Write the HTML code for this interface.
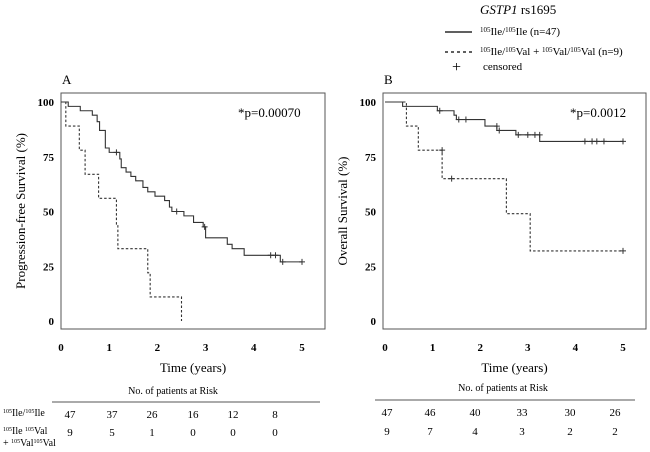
<!DOCTYPE html>
<html><head><meta charset="utf-8"><style>
body{margin:0;background:#fff;}
svg{display:block;font-family:"Liberation Serif",serif;}
</style></head><body>
<svg width="650" height="452" viewBox="0 0 650 452">
<g id="legend" font-size="11">
 <text x="480" y="14" font-size="13"><tspan font-style="italic">GSTP1</tspan> rs1695</text>
 <line x1="445" y1="32" x2="472" y2="32" stroke="#000" stroke-width="1.2"/>
 <text x="480" y="35"><tspan font-size="7" dy="-3">105</tspan><tspan dy="3">Ile/</tspan><tspan font-size="7" dy="-3">105</tspan><tspan dy="3">Ile    (n=47)</tspan></text>
 <line x1="445" y1="52" x2="472" y2="52" stroke="#000" stroke-width="1.2" stroke-dasharray="3,3"/>
 <text x="480" y="55"><tspan font-size="7" dy="-3">105</tspan><tspan dy="3">Ile/</tspan><tspan font-size="7" dy="-3">105</tspan><tspan dy="3">Val + </tspan><tspan font-size="7" dy="-3">105</tspan><tspan dy="3">Val/</tspan><tspan font-size="7" dy="-3">105</tspan><tspan dy="3">Val   (n=9)</tspan></text>
 <text x="452" y="72" font-size="16">+</text>
 <text x="483" y="70">censored</text>
</g>
<g id="pA"></g>
<g id="pB"></g>
<g id="risk" font-size="11">
 <text x="173" y="394" text-anchor="middle" font-size="10">No. of patients at Risk</text>
 <line x1="52" y1="402" x2="320" y2="402" stroke="#555"/>
 <text x="503" y="391" text-anchor="middle" font-size="10">No. of patients at Risk</text>
 <line x1="375" y1="400" x2="635" y2="400" stroke="#555"/>
 <text x="3" y="416" font-size="10"><tspan font-size="6" dy="-3">105</tspan><tspan dy="3">Ile/</tspan><tspan font-size="6" dy="-3">105</tspan><tspan dy="3">Ile</tspan></text>
 <text x="3" y="434" font-size="10"><tspan font-size="6" dy="-3">105</tspan><tspan dy="3">Ile </tspan><tspan font-size="6" dy="-3">105</tspan><tspan dy="3">Val</tspan></text>
 <text x="3" y="446" font-size="10">+ <tspan font-size="6" dy="-3">105</tspan><tspan dy="3">Val</tspan><tspan font-size="6" dy="-3">105</tspan><tspan dy="3">Val</tspan></text>
</g>
</svg>
<script>
const aSolidT=[0,0.15,0.4,0.65,0.75,0.8,0.92,1.0,1.22,1.25,1.35,1.45,1.55,1.7,1.8,1.95,2.15,2.25,2.3,2.55,2.75,2.95,3.0,3.45,3.55,3.8,4.55,5.0];
const aSolidS=[100,98,96,94,91,87,79,77,74,70,68,66,64,61,59,57,55,52,50,48,45,43,38,35,33,30,27,27];
const aSolidCensT=[1.15,2.4,2.98,4.35,4.45,4.6,5.0];
const aSolidCensS=[77,50,43,30,30,27,27];
const aDashT=[0,0.1,0.38,0.5,0.78,1.15,1.18,1.8,1.85,2.5];
const aDashS=[100,89,78,67,56,44,33,22,11,0];
const bSolidT=[0,0.37,1.1,1.45,1.5,2.1,2.35,2.75,3.25,5.0];
const bSolidS=[100,98,96,94,92,89,87,85,82,82];
const bSolidCensT=[1.15,1.55,1.7,2.35,2.4,2.8,3.0,3.15,3.25,4.2,4.35,4.45,4.6,5.0];
const bSolidCensS=[96,92,92,89,87,85,85,85,85,82,82,82,82,82];
const bDashT=[0,0.45,0.7,1.2,2.55,3.05,5.0];
const bDashS=[100,89,78,65,49,32,32];
const bDashCensT=[1.2,1.4,5.0];
const bDashCensS=[78,65,32];
const xTicks=[0,1,2,3,4,5];
const yTicks=[0,25,50,75,100];
const riskA1=[47,37,26,16,12,8], riskA2=[9,5,1,0,0,0];
const riskB1=[47,46,40,33,30,26], riskB2=[9,7,4,3,2,2];

const NS='http://www.w3.org/2000/svg';
function mk(tag,attrs,parent,txt){const e=document.createElementNS(NS,tag);for(const k in attrs)e.setAttribute(k,attrs[k]);if(txt!==undefined)e.textContent=txt;parent.appendChild(e);return e;}
function panel(g,o){
 const X=t=>o.x0+t*(o.x5-o.x0)/5, Y=s=>o.y0-s*(o.y0-o.y100)/100;
 let e=mk('rect',{x:o.bl,y:93,width:o.br-o.bl,height:236,fill:'none',stroke:'#555','stroke-width':1},g);
 
 
 xTicks.forEach(t=>{let l=mk('text',{x:X(t),y:351,'text-anchor':'middle','font-size':11,'font-weight':'bold'},g,t);
  
  });
 yTicks.forEach(s=>{let l=mk('text',{x:o.bl-7,y:Y(s)+4,'text-anchor':'end','font-size':11,'font-weight':'bold'},g,s);
  
  });
 e=mk('text',{x:(o.bl+o.br)/2,y:372,'text-anchor':'middle','font-size':13},g,'Time (years)');
 
 
 e=mk('text',{x:o.yt,y:211,'text-anchor':'middle','font-size':13,transform:`rotate(-90 ${o.yt} 211)`},g,o.ytitle);
 
 
 e=mk('text',{x:o.bl+1,y:84,'font-size':13},g,o.letter);
 
 
 e=mk('text',{x:o.px,y:117,'font-size':13},g,o.p);
 
 
 function step(T,S,dash,name){let d='M'+X(T[0])+','+Y(S[0]);for(let i=1;i<T.length;i++){d+='H'+X(T[i])+'V'+Y(S[i]);}
  let p=mk('path',{d:d,fill:'none',stroke:'#333','stroke-width':1.1,'stroke-dasharray':dash?'2.5,2':'none'},g);
  
  }
 function cens(T,S){T.forEach((t,i)=>{let p=mk('path',{d:`M${X(t)-3},${Y(S[i])}h6M${X(t)},${Y(S[i])-3}v6`,stroke:'#333','stroke-width':1},g);
  
  });}
 step(o.sT,o.sS,false,'curve-ile-ile');step(o.dT,o.dS,true,'curve-val');
 cens(o.scT,o.scS); if(o.dcT)cens(o.dcT,o.dcS);
}
const gA=document.getElementById('pA');


panel(gA,{bl:61,br:325,x0:61,x5:302,y0:321,y100:102,yt:25,ytitle:'Progression-free Survival (%)',letter:'A',px:238,p:'*p=0.00070',
 sT:aSolidT,sS:aSolidS,dT:aDashT,dS:aDashS,scT:aSolidCensT,scS:aSolidCensS});
const gB=document.getElementById('pB');


panel(gB,{bl:383,br:646,x0:385,x5:623,y0:321,y100:102,yt:347,ytitle:'Overall Survival (%)',letter:'B',px:570,p:'*p=0.0012',
 sT:bSolidT,sS:bSolidS,dT:bDashT,dS:bDashS,scT:bSolidCensT,scS:bSolidCensS,dcT:bDashCensT,dcS:bDashCensS});
const risk=document.getElementById('risk');
const rxA=[70,112,152,193,233,275], rxB=[387,430,475,522,570,615];
function row(vals,xs,y,name){vals.forEach((v,i)=>{let t=mk('text',{x:xs[i],y:y,'text-anchor':'middle'},risk,v);
 
 });}
row(riskA1,rxA,418,'risk-a-ile');row(riskA2,rxA,436,'risk-a-val');
row(riskB1,rxB,416,'risk-b-ile');row(riskB2,rxB,435,'risk-b-val');
</script>
</body></html>
